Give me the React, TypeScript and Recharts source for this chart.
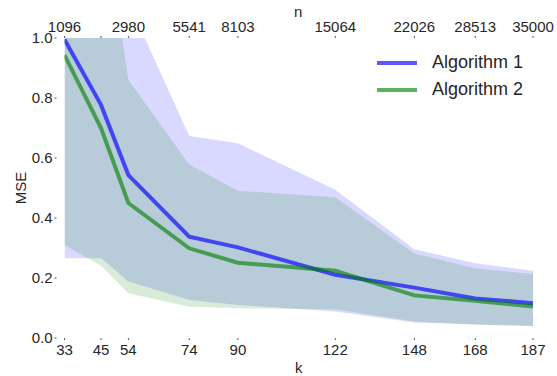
import React from "react";
import { ComposedChart, Area, Line, XAxis, YAxis } from "recharts";

// k = sqrt(n); top axis shows n at the same positions
const K = [33, 45, 54, 74, 90, 122, 148, 168, 187];
const N_LABELS = ["1096", "", "2980", "5541", "8103", "15064", "22026", "28513", "35000"];
const Y_TICKS = [0, 0.2, 0.4, 0.6, 0.8, 1.0];

const ALG1 = [0.995, 0.777, 0.543, 0.338, 0.302, 0.211, 0.168, 0.132, 0.116];
const ALG1_LOW = [0.266, 0.266, 0.188, 0.127, 0.11, 0.088, 0.052, 0.045, 0.04];
const ALG1_HIGH = [1.6, 1.5, 1.12, 0.673, 0.649, 0.494, 0.296, 0.249, 0.224];

const ALG2 = [0.943, 0.7, 0.45, 0.299, 0.251, 0.224, 0.142, 0.124, 0.105];
const ALG2_LOW = [0.31, 0.241, 0.149, 0.104, 0.099, 0.096, 0.055, 0.045, 0.04];
const ALG2_HIGH = [1.5, 1.47, 0.86, 0.578, 0.491, 0.469, 0.282, 0.232, 0.213];

const SERIES = [
  { name: "Algorithm 1", color: "rgba(0,0,255,0.65)" },
  { name: "Algorithm 2", color: "rgba(0,128,0,0.62)" },
];

const data = K.map((k, i) => ({
  k,
  alg1: ALG1[i],
  alg2: ALG2[i],
  band1: [ALG1_LOW[i], ALG1_HIGH[i]],
  band2: [ALG2_LOW[i], ALG2_HIGH[i]],
}));

const FONT = '"Liberation Sans", Arial, sans-serif';
const TEXT = "#262626";
const tickStyle = { fontSize: 15, fill: TEXT, fontFamily: FONT };

const abs = (left: number, top: number): React.CSSProperties => ({
  position: "absolute",
  left,
  top,
  fontFamily: FONT,
  fontSize: 15,
  color: TEXT,
  lineHeight: 1,
  whiteSpace: "nowrap",
});

export default function App() {
  return (
    <div style={{ position: "absolute", left: 0, top: 0, width: 557, height: 376, background: "#fff" }}>
      <ComposedChart
        width={557}
        height={376}
        data={data}
        margin={{ top: 0, right: 15, bottom: 0, left: 0 }}
      >
        <XAxis
          dataKey="k"
          type="number"
          domain={[33, 187]}
          ticks={K}
          padding={{ left: 8, right: 9 }}
          allowDataOverflow
          axisLine={false}
          tickSize={2}
          tickLine={{ stroke: "#555" }}
          tick={tickStyle}
          tickMargin={4}
          height={38}
        />
        <XAxis
          xAxisId="top"
          dataKey="k"
          type="number"
          orientation="top"
          domain={[33, 187]}
          ticks={K}
          padding={{ left: 8, right: 9 }}
          allowDataOverflow
          axisLine={false}
          tickSize={2}
          tickLine={{ stroke: "#555" }}
          tick={tickStyle}
          tickMargin={4}
          tickFormatter={(v: number) => N_LABELS[K.indexOf(v)] ?? ""}
          height={38}
        />
        <YAxis
          type="number"
          domain={[0, 1]}
          ticks={Y_TICKS}
          allowDataOverflow
          axisLine={false}
          tickSize={2}
          tickLine={{ stroke: "#555" }}
          tick={tickStyle}
          tickMargin={2}
          tickFormatter={(v: number) => v.toFixed(1)}
          width={56.5}
        />
        <Area
          type="linear"
          dataKey="band1"
          stroke="none"
          fill="rgb(0,0,255)"
          fillOpacity={0.15}
          isAnimationActive={false}
        />
        <Area
          type="linear"
          dataKey="band2"
          stroke="none"
          fill="rgb(0,128,0)"
          fillOpacity={0.15}
          isAnimationActive={false}
        />
        <Line
          type="linear"
          dataKey="alg1"
          stroke={SERIES[0].color}
          strokeWidth={4}
          dot={false}
          activeDot={false}
          isAnimationActive={false}
        />
        <Line
          type="linear"
          dataKey="alg2"
          stroke={SERIES[1].color}
          strokeWidth={4}
          dot={false}
          activeDot={false}
          isAnimationActive={false}
        />
        <Line
          xAxisId="top"
          dataKey="alg1"
          stroke="none"
          dot={false}
          activeDot={false}
          isAnimationActive={false}
        />
      </ComposedChart>

      {/* axis titles */}
      <div style={{ ...abs(294, 4) }}>n</div>
      <div style={{ ...abs(295, 360) }}>k</div>
      <div
        style={{
          ...abs(20, 188),
          transform: "translate(-50%, -50%) rotate(-90deg)",
        }}
      >
        MSE
      </div>

      {/* legend */}
      <div style={{ position: "absolute", left: 372, top: 49, fontFamily: FONT, fontSize: 18, color: TEXT }}>
        {SERIES.map((s) => (
          <div key={s.name} style={{ display: "flex", alignItems: "center", height: 27 }}>
            <svg width={60} height={10}>
              <line x1={5} y1={5} x2={45} y2={5} stroke={s.color} strokeWidth={4} />
            </svg>
            <span>{s.name}</span>
          </div>
        ))}
      </div>
    </div>
  );
}
